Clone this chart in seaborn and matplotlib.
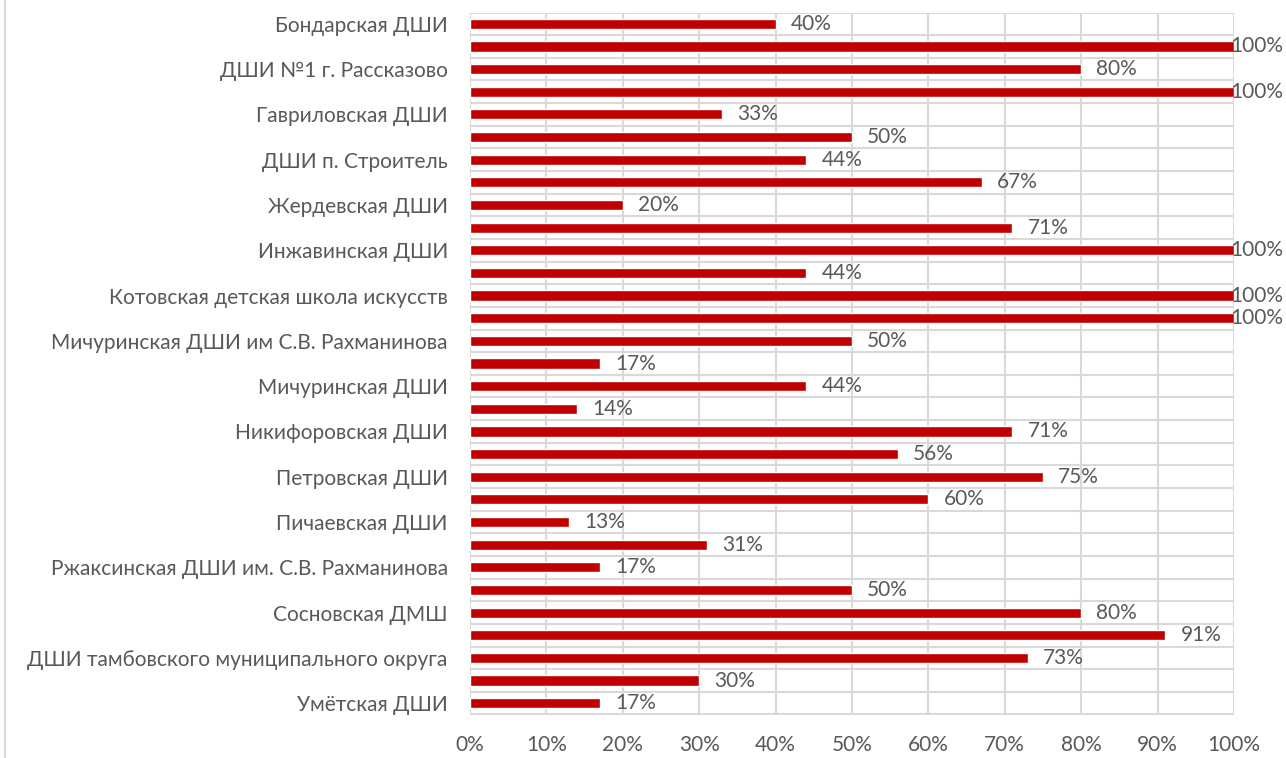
import matplotlib.pyplot as plt
import numpy as np
import pandas as pd
import seaborn as sns

# Visible category labels (Excel shows only every other one; hidden ones are blank)
labels = [
    "Бондарская ДШИ", "",
    "ДШИ №1 г. Рассказово", "",
    "Гавриловская ДШИ", "",
    "ДШИ п. Строитель", "",
    "Жердевская ДШИ", "",
    "Инжавинская ДШИ", "",
    "Котовская детская школа искусств", "",
    "Мичуринская ДШИ им С.В. Рахманинова", "",
    "Мичуринская ДШИ", "",
    "Никифоровская ДШИ", "",
    "Петровская ДШИ", "",
    "Пичаевская ДШИ", "",
    "Ржаксинская ДШИ им. С.В. Рахманинова", "",
    "Сосновская ДМШ", "",
    "ДШИ тамбовского муниципального округа", "",
    "Умётская ДШИ",
]
values = [40, 100, 80, 100, 33, 50, 44, 67, 20, 71, 100, 44, 100, 100, 50,
          17, 44, 14, 71, 56, 75, 60, 13, 31, 17, 50, 80, 91, 73, 30, 17]
x_ticks = [0, 10, 20, 30, 40, 50, 60, 70, 80, 90, 100]

BAR = "#C00000"
GRID = "#D9D9D9"
TEXT = "#595959"
FS = 15

sns.set_theme(style="white")
plt.rcParams["font.family"] = ["Lato", "DejaVu Sans"]

df = pd.DataFrame({"pos": np.arange(len(values)), "value": values})

fig = plt.figure(figsize=(12.86, 7.58), dpi=100)
ax = fig.add_axes([470 / 1286, 1 - 714.5 / 758, (1234 - 470) / 1286, (714.5 - 12.5) / 758])

sns.barplot(data=df, x="value", y="pos", orient="h", color=BAR, width=0.45,
            saturation=1, ax=ax, zorder=3)

n = len(values)
ax.set_xlim(0, 100)
ax.set_ylim(n - 0.5, -0.5)

# grid lines: vertical at each 10%, horizontal between categories
for xv in x_ticks:
    ax.axvline(xv, color=GRID, lw=1.5, zorder=1)
for yv in np.arange(-0.5, n, 1.0):
    ax.axhline(yv, color=GRID, lw=1.5, zorder=1)

for s in ax.spines.values():
    s.set_visible(False)

ax.set_xticks(x_ticks)
ax.set_xticklabels([f"{v}%" for v in x_ticks], fontsize=FS, color=TEXT)
ax.set_yticks(np.arange(n))
ax.set_yticklabels(labels, fontsize=FS, color=TEXT)
ax.tick_params(axis="both", length=0)
ax.tick_params(axis="x", pad=15)
ax.tick_params(axis="y", pad=16)
ax.set_xlabel("")
ax.set_ylabel("")

# data labels
for i, v in enumerate(values):
    if v >= 100:
        ax.annotate(f"{v}%", (100, i), xytext=(-3, 0), textcoords="offset points",
                    va="center", ha="left", fontsize=FS, color=TEXT, zorder=4,
                    annotation_clip=False)
    else:
        ax.annotate(f"{v}%", (v, i), xytext=(11, 0), textcoords="offset points",
                    va="center", ha="left", fontsize=FS, color=TEXT, zorder=4)

# left frame line of the chart area
fig.add_artist(plt.Line2D([5 / 1286, 5 / 1286], [0, 1], color=GRID, lw=1.5))

fig.savefig("out.png", dpi=100)
